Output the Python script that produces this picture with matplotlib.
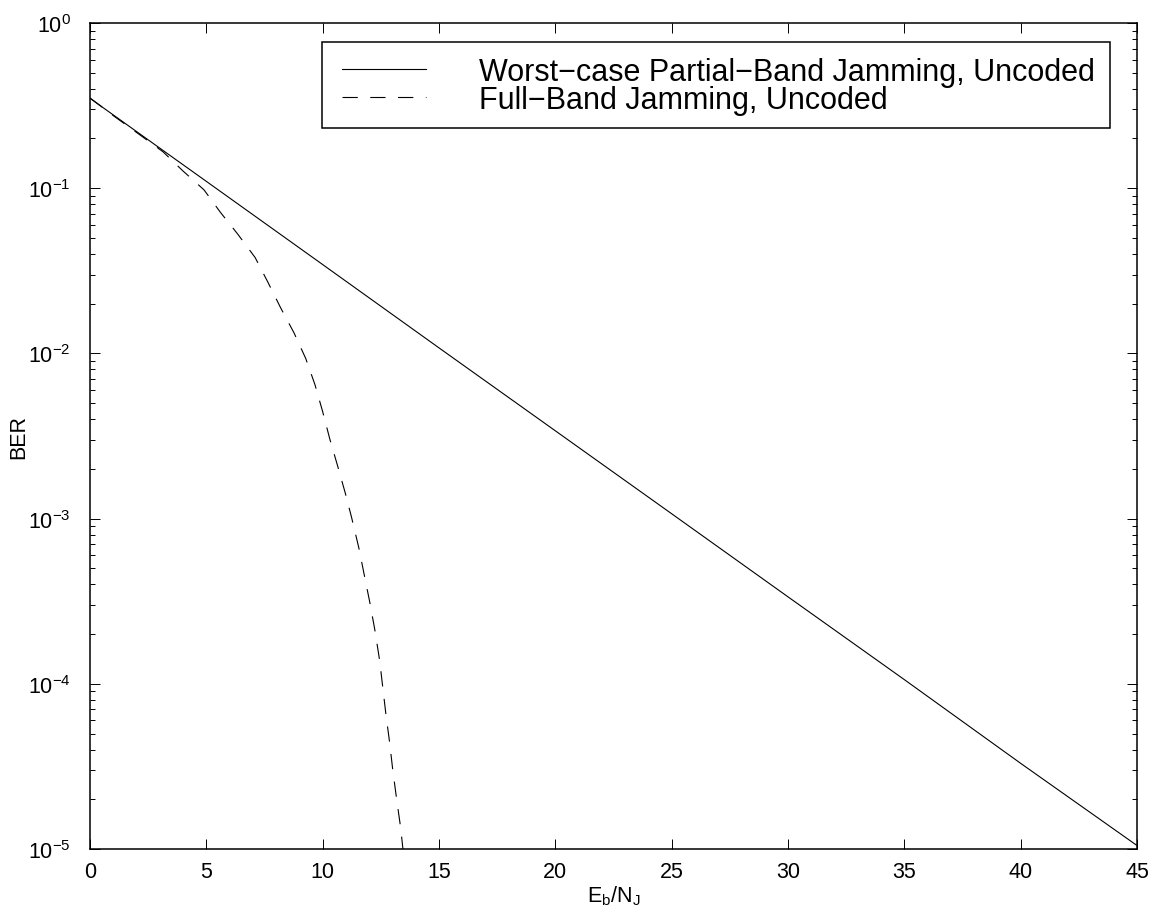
import matplotlib
matplotlib.use("Agg")
import matplotlib.pyplot as plt
from matplotlib.ticker import LogLocator, FixedLocator, NullFormatter
from matplotlib.patches import Rectangle
from matplotlib.lines import Line2D

plt.rcParams['font.family'] = ['Liberation Sans', 'DejaVu Sans']
plt.rcParams['mathtext.fontset'] = 'custom'
plt.rcParams['mathtext.rm'] = 'Liberation Sans'
plt.rcParams['mathtext.it'] = 'Liberation Sans:italic'
plt.rcParams['mathtext.default'] = 'regular'
plt.rcParams['lines.scale_dashes'] = False

# ---- data ----
ebnj_pbj = [0, 5, 10, 15, 20, 25, 30, 35, 40, 45]
ber_pbj = [0.35, 0.110, 0.0345, 0.0108, 0.0034, 0.00107, 3.36e-4, 1.06e-4, 3.3e-5, 1.05e-5]

ebnj_fbj = [0, 1.0, 2.15, 3.14, 4.0, 4.9, 5.6, 6.36, 7.1, 7.65, 8.2, 8.77, 9.27, 9.67,
            10.0, 10.31, 10.64, 10.97, 11.24, 11.56, 11.8, 12.03, 12.25, 12.45, 12.72,
            12.87, 13.02, 13.18, 13.35, 13.45, 13.55]
ber_fbj = [0.352, 0.275, 0.210, 0.166, 0.127, 0.0977, 0.0716, 0.0525, 0.0380, 0.0269,
           0.0188, 0.0133, 0.00933, 0.00646, 0.00444, 0.00302, 0.00209, 0.00143, 0.00102,
           6.6e-4, 4.47e-4, 3.09e-4, 2.09e-4, 1.38e-4, 6.5e-5, 4.5e-5, 2.95e-5, 2.0e-5,
           1.35e-5, 1.0e-5, 7.5e-6]

labels = ['Worst\u2212case Partial\u2212Band Jamming, Uncoded',
          'Full\u2212Band Jamming, Uncoded']
xticks = [0, 5, 10, 15, 20, 25, 30, 35, 40, 45]

DASH = (0, (11, 9))
W, H = 1163, 920
fig = plt.figure(figsize=(W / 100, H / 100), dpi=100)
ax = fig.add_axes([90 / W, 1 - 850 / H, (1137 - 90) / W, (850 - 24) / H])

ax.semilogy(ebnj_pbj, ber_pbj, color='black', lw=0.8, ls='-', label=labels[0])
ax.semilogy(ebnj_fbj, ber_fbj, color='black', lw=0.8, ls=DASH, label=labels[1])

ax.set_xlim(0, 45)
ax.set_ylim(1e-5, 1)
ax.xaxis.set_major_locator(FixedLocator(xticks))
ax.yaxis.set_major_locator(LogLocator(base=10, numticks=10))
ax.yaxis.set_minor_locator(LogLocator(base=10, subs=range(2, 10), numticks=100))
ax.yaxis.set_minor_formatter(NullFormatter())

for s in ax.spines.values():
    s.set_linewidth(1.1)
ax.tick_params(which='both', direction='in', top=True, right=True, width=0.7)
ax.tick_params(which='major', length=7.2)
ax.tick_params(which='minor', length=3.6)
ax.tick_params(axis='x', which='major', labelsize=15.5, pad=9)
ax.tick_params(axis='y', which='major', labelsize=15.5, pad=14)

ax.set_xlabel('E$_b$/N$_J$', fontsize=15.5)
ax.set_ylabel('BER', fontsize=15.5)
ax.xaxis.set_label_coords(0.5, (850 - 884) / 826)
ax.yaxis.set_label_coords((29 - 90) / 1047, 0.5)

# ---- MATLAB-style legend box (positions in figure pixels) ----
def fx(px):
    return px / W

def fy(py):
    return 1 - py / H

tf = fig.transFigure
box = Rectangle((fx(322), fy(129)), fx(1110) - fx(322), fy(43) - fy(129),
                transform=tf, facecolor='white', edgecolor='black', lw=1.1, zorder=5)
fig.patches.append(box)
styles = ['-', DASH]
baselines = [81, 109]
for lab, st, bl in zip(labels, styles, baselines):
    mid = bl - 11
    fig.lines.append(Line2D([fx(342), fx(426)], [fy(mid), fy(mid)], transform=tf,
                            color='black', lw=0.8, ls=st, zorder=6))
    fig.text(fx(479), fy(bl), lab, fontsize=22, va='baseline', ha='left', zorder=6)

fig.savefig('out.png', dpi=100, facecolor='white')
